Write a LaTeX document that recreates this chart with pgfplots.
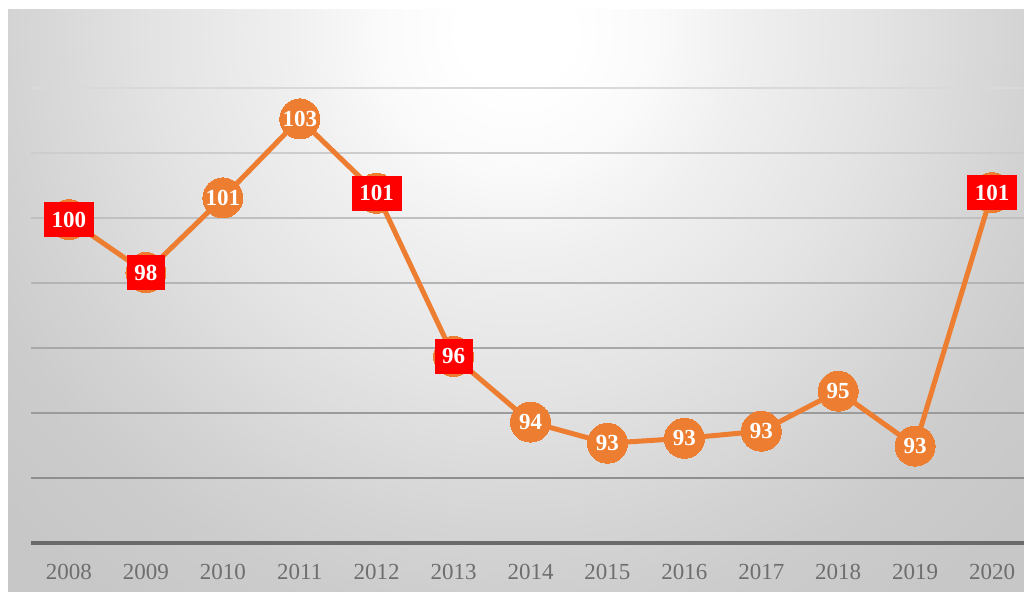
\documentclass[border=0pt]{standalone}
\usepackage{fontspec}
\setmainfont{Liberation Serif}
\usepackage{pgfplots}
\usepackage{pgfplotstable}
\pgfplotsset{compat=1.18}
\definecolor{lineor}{HTML}{ED7D31}
\definecolor{boxred}{HTML}{FF0000}
\definecolor{axisc}{HTML}{6A6A6A}
\definecolor{tickc}{HTML}{6E6E6E}
\definecolor{gA}{HTML}{D9D9D9}
\definecolor{gB}{HTML}{CDCDCD}
\definecolor{gC}{HTML}{C0C0C0}
\definecolor{gD}{HTML}{B4B4B4}
\definecolor{gE}{HTML}{A8A8A8}
\definecolor{gF}{HTML}{9B9B9B}
\definecolor{gG}{HTML}{8F8F8F}
\pgfdeclareradialshading{bgshade}{\pgfpoint{0bp}{0bp}}{color(0bp)=(white); color(2bp)=(white); color(5bp)=(black!2); color(8bp)=(black!6); color(13bp)=(black!11); color(18bp)=(black!17); color(21bp)=(black!20); color(25bp)=(black!22); color(50bp)=(black!24)}

\pgfplotstableread{
x y
0 99.95
1 98.32
2 100.62
3 103.05
4 100.76
5 95.74
6 93.72
7 93.07
8 93.22
9 93.44
10 94.67
11 92.98
12 100.78
}\dataall

\pgfplotstableread{
x y
0 99.95
1 98.32
4 100.76
5 95.74
12 100.78
}\databox

\pgfplotstableread{
x y
2 100.62
3 103.05
6 93.72
7 93.07
8 93.22
9 93.44
10 94.67
11 92.98
}\datacirc

\begin{document}
\begin{tikzpicture}
\useasboundingbox (0pt,0pt) rectangle (512pt,296pt);
\begin{scope}
\clip (4pt,0pt) rectangle (512pt,291pt);
\shade[shading=bgshade] (-92pt,-70pt) rectangle (608pt,630pt);
\end{scope}
\begin{axis}[
  at={(15.5pt,24.5pt)}, anchor=south west,
  scale only axis, width=496.5pt, height=260pt,
  xmin=-0.494, xmax=12.415, ymin=90, ymax=106,
  axis x line=bottom, axis y line=none,
  x axis line style={-, draw=axisc, line width=1.9pt},
  xtick={0,...,12},
  xticklabels={2008,2009,2010,2011,2012,2013,2014,2015,2016,2017,2018,2019,2020},
  xtick style={draw=none}, major tick length=0pt,
  ytick=\empty,
  xticklabel style={font=\fontsize{11.5}{12}\selectfont, text=tickc, anchor=center, yshift=-14.5pt},
  /pgf/number format/assume math mode=true,
  clip=false,
]
\draw[gA, line width=1pt] (axis cs:-0.494,104) -- (axis cs:12.415,104);
\draw[gB, line width=1pt] (axis cs:-0.494,102) -- (axis cs:12.415,102);
\draw[gC, line width=1pt] (axis cs:-0.494,100) -- (axis cs:12.415,100);
\draw[gD, line width=1pt] (axis cs:-0.494,98) -- (axis cs:12.415,98);
\draw[gE, line width=1pt] (axis cs:-0.494,96) -- (axis cs:12.415,96);
\draw[gF, line width=1pt] (axis cs:-0.494,94) -- (axis cs:12.415,94);
\draw[gG, line width=1pt] (axis cs:-0.494,92) -- (axis cs:12.415,92);

\addplot[lineor, line width=2.5pt, mark=*, mark size=10pt,
  mark options={fill=lineor, draw=lineor, line width=0pt}] table {\dataall};

\addplot[draw=none, point meta=y,
  nodes near coords={\pgfmathprintnumber[fixed,precision=0]{\pgfplotspointmeta}},
  nodes near coords style={anchor=center, text=white, font=\bfseries\fontsize{11.5}{12}\selectfont, inner sep=0pt}
] table {\datacirc};

\addplot[draw=none, point meta=y,
  nodes near coords={\pgfmathprintnumber[fixed,precision=0]{\pgfplotspointmeta}},
  nodes near coords style={anchor=center, text=white, fill=boxred, font=\bfseries\fontsize{11.5}{12}\selectfont, inner xsep=3.8pt, inner ysep=0pt, minimum height=17.5pt}
] table {\databox};
\end{axis}
\end{tikzpicture}
\end{document}
